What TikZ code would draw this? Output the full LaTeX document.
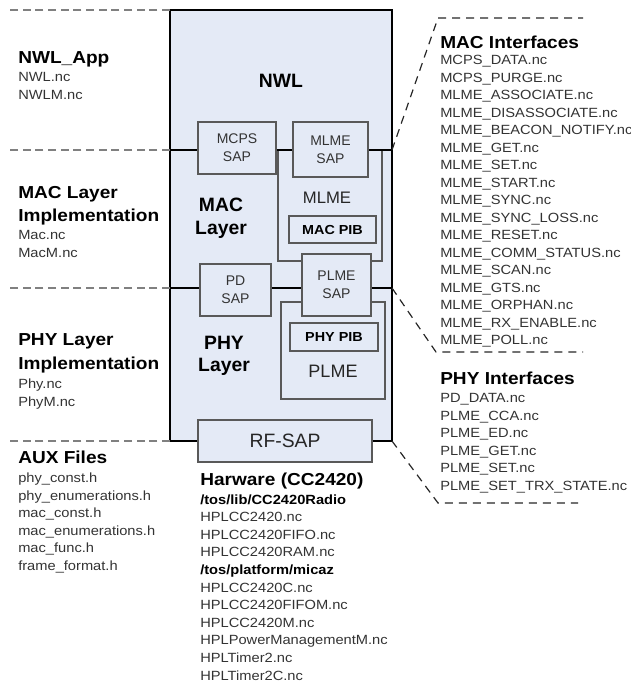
\documentclass[tikz,border=0pt]{standalone}
\usepackage{fontspec}
\setmainfont{Liberation Sans}
\newfontfamily\widesans[FakeStretch=1.1]{Liberation Sans}
\definecolor{panel}{HTML}{E4EAF6}
\begin{document}
\begin{tikzpicture}[x=0.75pt,y=-0.75pt,
  box/.style={draw=black!65,line width=0.9pt,fill=panel,inner sep=0pt},
  sapbox/.style={box,align=center,text=black!80,font=\fontsize{10.5}{13.5}\selectfont},
  pibbox/.style={box,font=\widesans\fontsize{9.8}{10}\selectfont\bfseries},
  bigtext/.style={font=\fontsize{13.5}{17}\selectfont,text=black!85},
  head/.style={anchor=base west,inner sep=0pt,font=\widesans\fontsize{13}{14}\selectfont\bfseries},
  file/.style={anchor=base west,inner sep=0pt,font=\widesans\fontsize{10}{11}\selectfont,text=black!80},
  sub/.style={anchor=base west,inner sep=0pt,font=\widesans\fontsize{10}{11}\selectfont\bfseries},
  sep/.style={draw=black!50,dash pattern=on 6pt off 3.5pt,line width=1.1pt},
  link/.style={draw=black!85,dash pattern=on 6pt off 4.5pt,line width=0.9pt}]
\useasboundingbox (0,0) rectangle (631,683);

\node[draw=black,line width=1.9pt,fill=panel,minimum width=166.5pt,minimum height=323.25pt] (stack) at (281,225.5) {};
\coordinate (topL) at (170,10);
\coordinate (macL) at (170,150);
\coordinate (macR) at (392,150);
\coordinate (phyL) at (170,288);
\coordinate (phyR) at (392,288);
\coordinate (botL) at (170,441);
\coordinate (botR) at (392,441);

\node[box,minimum width=78pt,minimum height=83.25pt] (mlme) at (330,205.5) {};
\node[box,minimum width=78pt,minimum height=72.75pt] (plme) at (333,350.5) {};
\draw[line width=1.9pt] (macL) -- (macR);
\draw[line width=1.9pt] (phyL) -- (phyR);

\node[sapbox,minimum width=58.5pt,minimum height=39pt] (mcpssap) at (237,148) {MCPS\\SAP};
\node[sapbox,minimum width=56.25pt,minimum height=41.25pt] (mlmesap) at (330.5,149.5) {MLME\\SAP};
\node[pibbox,minimum width=65.25pt,minimum height=20.25pt] (macpib) at (332.5,229.5) {MAC PIB};
\node[sapbox,minimum width=53.25pt,minimum height=39pt] (pdsap) at (235.5,290) {PD\\SAP};
\node[sapbox,minimum width=51.75pt,minimum height=46.5pt] (plmesap) at (336.5,285) {PLME\\SAP};
\node[pibbox,minimum width=66pt,minimum height=21pt] (phypib) at (334,337) {PHY PIB};
\node[box,font=\fontsize{14.5}{17}\selectfont,text=black!85,minimum width=130.5pt,minimum height=31.5pt] (rfsap) at (285,441) {RF-SAP};

\node[font=\fontsize{12.5}{17}\selectfont,text=black!85] (mlmetxt) at (327,198) {MLME};
\node[bigtext] (plmetxt) at (333,371) {PLME};
\node[font=\fontsize{14.5}{14}\selectfont\bfseries] (nwl) at (281,81) {NWL};
\node[align=center,font=\fontsize{14.5}{17}\selectfont\bfseries] (maclayer) at (221,218) {MAC\\Layer};
\node[align=center,font=\fontsize{14.5}{17}\selectfont\bfseries] (phylayer) at (224,356) {PHY\\Layer};

\draw[sep] (topL) -- ++(-160,0);
\draw[sep] (macL) -- ++(-162,0);
\draw[sep] (phyL) -- ++(-162,0);
\draw[sep] (botL) -- ++(-162,0);

\draw[link] (macR) -- ++(46,-132) -- ++(145,0);
\draw[link] (phyR) -- ++(44,64) -- ++(147,0);
\draw[link] (botR) -- ++(46,62) -- ++(140,0);

\node[head] (nwlapp) at (18,63) {NWL\_App};
\node[file] (nwlnc) at (18,81.5) {NWL.nc};
\node[file] (nwlmnc) at (18,99.5) {NWLM.nc};

\node[head] (macimpl1) at (18,198) {MAC Layer};
\node[head] (macimpl2) at (18,221) {Implementation};
\node[file] (macnc) at (18,239.5) {Mac.nc};
\node[file] (macmnc) at (18,257.5) {MacM.nc};

\node[head] (phyimpl1) at (18,345) {PHY Layer};
\node[head] (phyimpl2) at (18,369) {Implementation};
\node[file] (phync) at (18,388.5) {Phy.nc};
\node[file] (phymnc) at (18,406.5) {PhyM.nc};

\node[head] (aux) at (18,463) {AUX Files};
\foreach \f [count=\i] in {phy\_const.h,phy\_enumerations.h,mac\_const.h,mac\_enumerations.h,mac\_func.h,frame\_format.h}
  \node[file] (aux\i) at (18,465.3+17.5*\i) {\f};

\node[head] (hw) at (200,485) {Harware (CC2420)};
\node[sub] (hwlib) at (200,504) {/tos/lib/CC2420Radio};
\foreach \f [count=\i] in {HPLCC2420.nc,HPLCC2420FIFO.nc,HPLCC2420RAM.nc}
  \node[file] (hwa\i) at (200,504+17.6*\i) {\f};
\node[sub] (hwplat) at (200,574.4) {/tos/platform/micaz};
\foreach \f [count=\i] in {HPLCC2420C.nc,HPLCC2420FIFOM.nc,HPLCC2420M.nc,HPLPowerManagementM.nc,HPLTimer2.nc,HPLTimer2C.nc}
  \node[file] (hwb\i) at (200,574.4+17.6*\i) {\f};

\node[head] (macif) at (440,48) {MAC Interfaces};
\foreach \f [count=\i] in {MCPS\_DATA.nc,MCPS\_PURGE.nc,MLME\_ASSOCIATE.nc,MLME\_DISASSOCIATE.nc,MLME\_BEACON\_NOTIFY.nc,MLME\_GET.nc,MLME\_SET.nc,MLME\_START.nc,MLME\_SYNC.nc,MLME\_SYNC\_LOSS.nc,MLME\_RESET.nc,MLME\_COMM\_STATUS.nc,MLME\_SCAN.nc,MLME\_GTS.nc,MLME\_ORPHAN.nc,MLME\_RX\_ENABLE.nc,MLME\_POLL.nc}
  \node[file] (macif\i) at (440,47+17.5*\i) {\f};

\node[head] (phyif) at (440,384) {PHY Interfaces};
\foreach \f [count=\i] in {PD\_DATA.nc,PLME\_CCA.nc,PLME\_ED.nc,PLME\_GET.nc,PLME\_SET.nc,PLME\_SET\_TRX\_STATE.nc}
  \node[file] (phyif\i) at (440,384.9+17.6*\i) {\f};
\end{tikzpicture}
\end{document}
